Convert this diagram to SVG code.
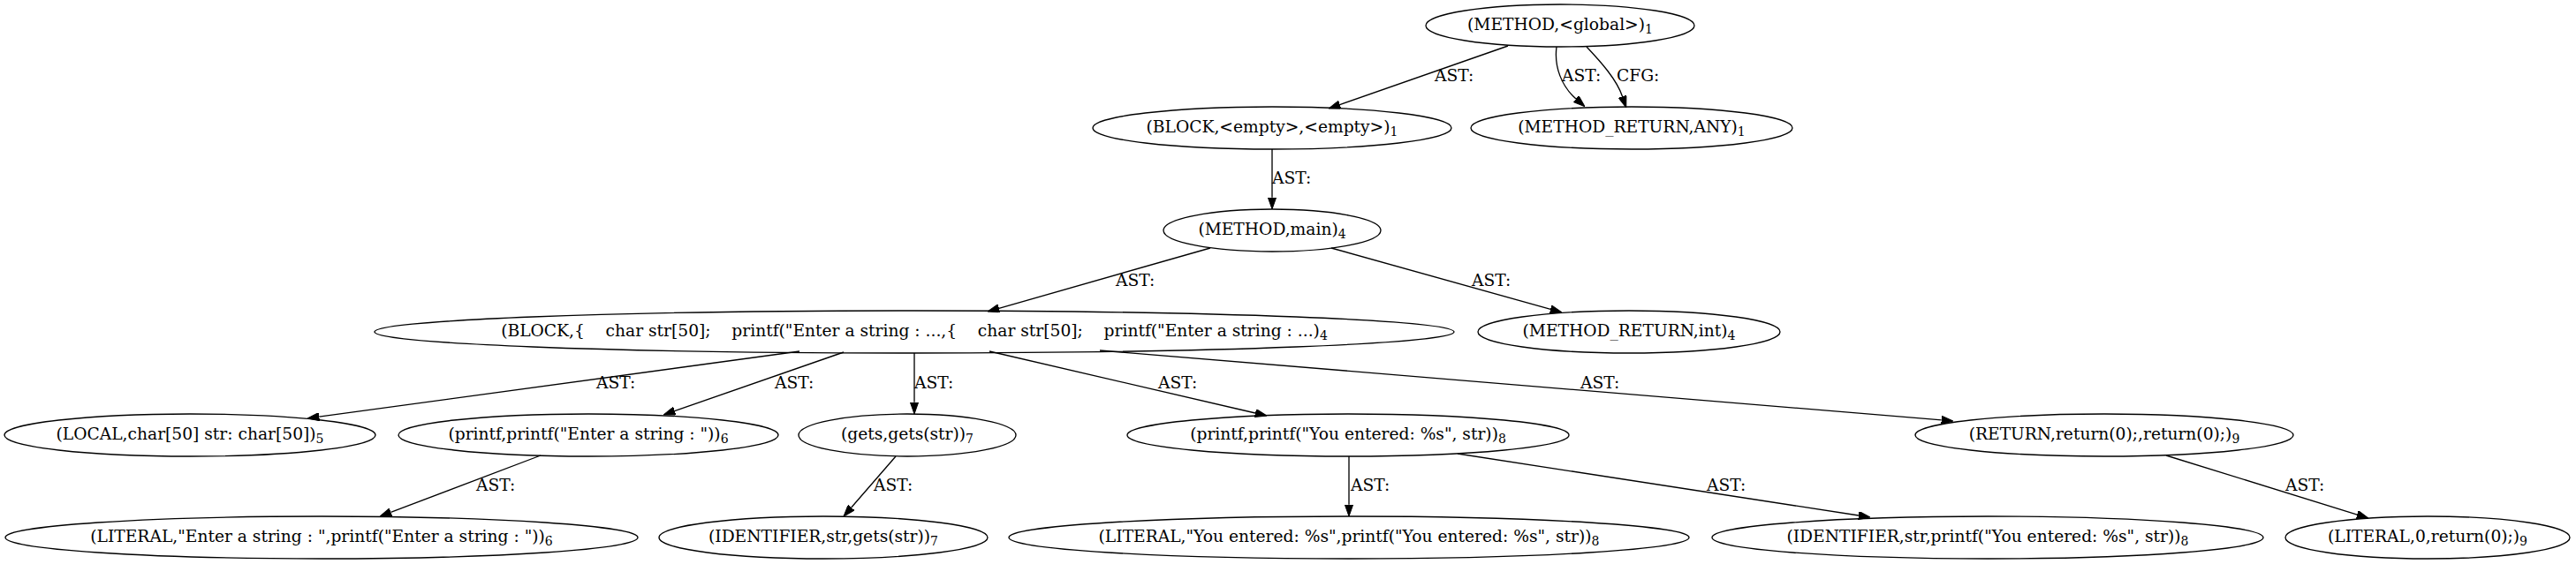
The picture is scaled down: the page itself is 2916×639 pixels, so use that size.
<svg xmlns="http://www.w3.org/2000/svg" width="2916" height="639" viewBox="0 0 2916 639">
<style>
  .node ellipse { fill: none; stroke: #000; stroke-width: 1.33; }
  .node text { font-family: "DejaVu Serif", "Liberation Serif", serif; font-size: 18.67px; text-anchor: middle; fill: #000; white-space: pre; }
  .sub { font-size: 14px; }
  .edge path { fill: none; stroke: #000; stroke-width: 1.33; marker-end: url(#arrow); }
  .lbl { font-family: "DejaVu Serif", "Liberation Serif", serif; font-size: 18.67px; fill: #000; }
</style>
<defs>
  <marker id="arrow" viewBox="0 -4.67 13.3 9.34" refX="0" refY="0" markerWidth="13.3" markerHeight="9.34" markerUnits="userSpaceOnUse" orient="auto">
    <path d="M0,-4.67 L13.3,0 L0,4.67 Z" fill="#000" stroke="#000" stroke-width="1"/>
  </marker>
</defs>
<rect width="2916" height="639" fill="#fff"/>

<g id="edges">
  <g class="edge"><path d="M1707,52 L1516.6,118.6"/><text class="lbl" x="1624" y="92">AST: </text></g>
  <g class="edge"><path d="M1762,53 C1759,76 1768,98 1784,112"/><text class="lbl" x="1768" y="92">AST: </text></g>
  <g class="edge"><path d="M1796,53 C1812,70 1830,90 1836.5,109.2"/><text class="lbl" x="1830" y="92">CFG: </text></g>
  <g class="edge"><path d="M1440,169 L1440,223.7"/><text class="lbl" x="1440" y="208">AST: </text></g>
  <g class="edge"><path d="M1370,281 L1130.8,349.3"/><text class="lbl" x="1263" y="324">AST: </text></g>
  <g class="edge"><path d="M1507,281 L1755.2,350.4"/><text class="lbl" x="1666" y="324">AST: </text></g>
  <g class="edge"><path d="M905,398 L361.2,472.2"/><text class="lbl" x="675" y="440">AST: </text></g>
  <g class="edge"><path d="M955,399 L763.6,465.6"/><text class="lbl" x="877" y="440">AST: </text></g>
  <g class="edge"><path d="M1035,400 L1035,455.7"/><text class="lbl" x="1035" y="440">AST: </text></g>
  <g class="edge"><path d="M1120,398 L1421,468"/><text class="lbl" x="1311" y="440">AST: </text></g>
  <g class="edge"><path d="M1245,397 L2197.7,475.9"/><text class="lbl" x="1789" y="440">AST: </text></g>
  <g class="edge"><path d="M612,516 L442.4,580.3"/><text class="lbl" x="539" y="556">AST: </text></g>
  <g class="edge"><path d="M1014,517 L963.7,575"/><text class="lbl" x="989" y="556">AST: </text></g>
  <g class="edge"><path d="M1527,517 L1527,571.7"/><text class="lbl" x="1529" y="556">AST: </text></g>
  <g class="edge"><path d="M1650,514 L2103.9,584"/><text class="lbl" x="1932" y="556">AST: </text></g>
  <g class="edge"><path d="M2452,516 L2668.3,583.1"/><text class="lbl" x="2587" y="556">AST: </text></g>
</g>

<g id="n1" class="node"><ellipse cx="1766" cy="29" rx="152" ry="24"/><text x="1766" y="33.5">(METHOD,&lt;global&gt;)<tspan class="sub" dy="4">1</tspan></text></g>
<g id="n2" class="node"><ellipse cx="1440" cy="145" rx="203" ry="24"/><text x="1440" y="149.5">(BLOCK,&lt;empty&gt;,&lt;empty&gt;)<tspan class="sub" dy="4">1</tspan></text></g>
<g id="n3" class="node"><ellipse cx="1847" cy="145" rx="182" ry="24"/><text x="1847" y="149.5">(METHOD_RETURN,ANY)<tspan class="sub" dy="4">1</tspan></text></g>
<g id="n4" class="node"><ellipse cx="1440" cy="261" rx="123" ry="24"/><text x="1440" y="265.5">(METHOD,main)<tspan class="sub" dy="4">4</tspan></text></g>
<g id="n5" class="node"><ellipse cx="1035" cy="376" rx="611" ry="24"/><text x="1035" y="380.5" xml:space="preserve">(BLOCK,{    char str[50];    printf("Enter a string : ...,{    char str[50];    printf("Enter a string : ...)<tspan class="sub" dy="4">4</tspan></text></g>
<g id="n6" class="node"><ellipse cx="1844" cy="376" rx="171" ry="24"/><text x="1844" y="380.5">(METHOD_RETURN,int)<tspan class="sub" dy="4">4</tspan></text></g>
<g id="n7" class="node"><ellipse cx="215" cy="493" rx="210" ry="24"/><text x="215" y="497.5">(LOCAL,char[50] str: char[50])<tspan class="sub" dy="4">5</tspan></text></g>
<g id="n8" class="node"><ellipse cx="666" cy="493" rx="215" ry="24"/><text x="666" y="497.5">(printf,printf("Enter a string : "))<tspan class="sub" dy="4">6</tspan></text></g>
<g id="n9" class="node"><ellipse cx="1027" cy="493" rx="123" ry="24"/><text x="1027" y="497.5">(gets,gets(str))<tspan class="sub" dy="4">7</tspan></text></g>
<g id="n10" class="node"><ellipse cx="1526" cy="493" rx="250" ry="24"/><text x="1526" y="497.5">(printf,printf("You entered: %s", str))<tspan class="sub" dy="4">8</tspan></text></g>
<g id="n11" class="node"><ellipse cx="2382" cy="493" rx="214" ry="24"/><text x="2382" y="497.5">(RETURN,return(0);,return(0);)<tspan class="sub" dy="4">9</tspan></text></g>
<g id="n12" class="node"><ellipse cx="364" cy="609" rx="358" ry="24"/><text x="364" y="613.5">(LITERAL,"Enter a string : ",printf("Enter a string : "))<tspan class="sub" dy="4">6</tspan></text></g>
<g id="n13" class="node"><ellipse cx="932" cy="609" rx="186" ry="24"/><text x="932" y="613.5">(IDENTIFIER,str,gets(str))<tspan class="sub" dy="4">7</tspan></text></g>
<g id="n14" class="node"><ellipse cx="1527" cy="609" rx="385" ry="24"/><text x="1527" y="613.5">(LITERAL,"You entered: %s",printf("You entered: %s", str))<tspan class="sub" dy="4">8</tspan></text></g>
<g id="n15" class="node"><ellipse cx="2250" cy="609" rx="312" ry="24"/><text x="2250" y="613.5">(IDENTIFIER,str,printf("You entered: %s", str))<tspan class="sub" dy="4">8</tspan></text></g>
<g id="n16" class="node"><ellipse cx="2748" cy="609" rx="161" ry="24"/><text x="2748" y="613.5">(LITERAL,0,return(0);)<tspan class="sub" dy="4">9</tspan></text></g>
</svg>
